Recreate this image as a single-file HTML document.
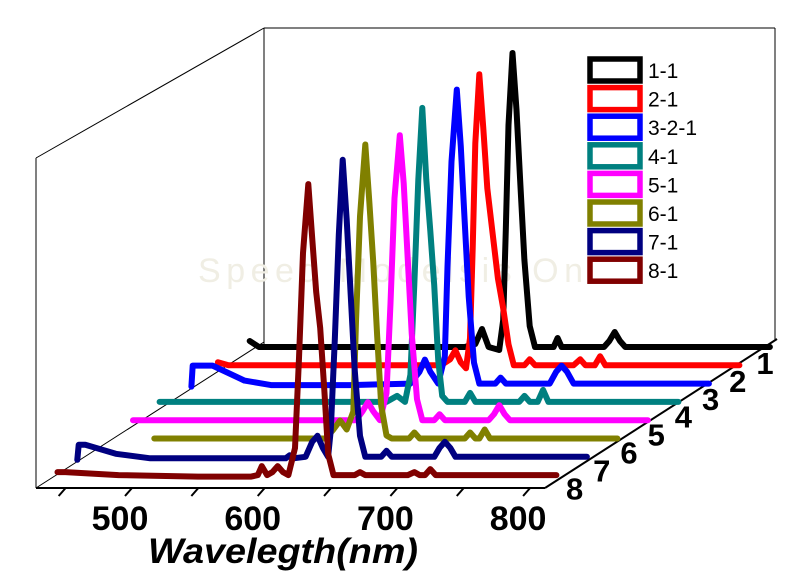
<!DOCTYPE html>
<html><head><meta charset="utf-8"><style>
html,body{margin:0;padding:0;background:#fff;width:787px;height:575px;overflow:hidden}
svg{display:block}
</style></head><body>
<svg id="chart" width="787" height="575" viewBox="0 0 787 575" xmlns="http://www.w3.org/2000/svg">
<g id="frame" stroke="#000" fill="none">
<line x1="264" y1="28" x2="264" y2="345" stroke-width="1"/>
<line x1="264" y1="28" x2="775" y2="28" stroke-width="1"/>
<line x1="775" y1="28" x2="775" y2="340" stroke-width="1"/>
<line x1="264" y1="28" x2="36" y2="158" stroke-width="1"/>
<line x1="36" y1="158" x2="36" y2="488" stroke-width="1"/>
<line x1="36" y1="488" x2="264" y2="342" stroke-width="1"/>
<line x1="36" y1="488" x2="545" y2="488" stroke-width="2"/>
<line x1="545" y1="488" x2="777" y2="339" stroke-width="2"/>
</g>
<text x="198" y="282" font-family="Liberation Sans, sans-serif" font-size="34" fill="#f0eee4" textLength="385">Speed Modelsis On</text>
<g id="series"></g>
<g id="axes"></g>
<text x="148" y="563" font-family="Liberation Sans, sans-serif" font-weight="bold" font-style="italic" font-size="35" textLength="270" lengthAdjust="spacingAndGlyphs">Wavelegth(nm)</text>
<g id="legend"></g>
</svg>
<script>
const seriesNames = ["1-1","2-1","3-2-1","4-1","5-1","6-1","7-1","8-1"];
const depthLabels = ["1","2","3","4","5","6","7","8"];
const colors = ["#000000","#ff0000","#0000ff","#008080","#ff00ff","#808000","#000080","#800000"];
const xTicks = [450,500,550,600,650,700,750,800];
const xTickLabels = [500,600,700,800];

const wl1 = [438,445,500,560,600,608,613,618,626,629,631,633,636,639,642,645,649,653,662,667,670,673,680,705,709,713,717,721,740,830];
const in1 = [3,1,1,1,1,2,7,1,0,10,40,75,99,80,55,30,8,1,1,1,4,1,1,1,3,6,3,1,1,1];
const wl2 = [437,445,560,605,612,616,620,624,627,629,631,634,637,640,644,648,652,656,660,668,672,676,705,710,714,721,725,729,830];
const in2 = [2,1,1,1,3,6,2,0,10,40,75,98,80,60,45,30,20,8,1,1,3,1,1,3,1,1,4,1,1];
const wl3 = [440,441,456,480,500,560,605,612,616,620,626,631,633,636,640,643,646,649,653,657,669,673,677,710,715,719,723,728,830];
const in3 = [0,7,7,2,0.5,0.5,1,5,9,5,1,10,40,75,99,80,55,30,8,1,1,3,1,1,5,7,5,1,1];
const wl4 = [439,560,610,618,624,628,631,634,637,640,643,646,649,652,656,669,673,677,710,714,718,724,728,732,830];
const in4 = [1,1,1,3,1,10,40,75,99,75,58,40,15,3,1,1,4,1,1,3,1,1,5,1,1];
const wl5 = [442,560,610,615,619,623,628,633,636,639,643,646,649,652,656,660,669,673,677,710,714,718,722,726,830];
const in5 = [1,1,1,4,7,4,1,10,40,75,96,80,55,30,8,1,1,3,1,1,3,6,3,1,1];
const wl6 = [481,560,610,616,621,626,631,633,636,640,643,646,649,652,656,660,673,677,681,715,719,723,726,730,734,830];
const in6 = [1,1,1,4,7,4,10,40,75,99,80,60,35,12,2,1,1,3,1,1,3,1,1,4,1,1];
const wl7 = [446,447,452,475,501,560,603,606,609,618,623,627,631,635,637,640,643,646,649,652,655,659,663,675,679,683,715,719,723,727,731,830];
const in7 = [0,5,5,2,0.5,0.5,0.5,1.5,0.5,1,6,8,4,1,10,40,75,100,80,55,30,8,1,1,3,1,1,4,6,4,1,1];
const wl8 = [454,460,500,560,600,605,608,612,616,620,624,628,633,636,639,643,646,649,652,655,658,662,678,682,686,718,723,727,731,735,739,830];
const in8 = [2,2,1,0.5,0.5,1,4,1,2,4,2,1,10,40,75,98,80,62,50,30,8,1,1,2,1,1,2,1,1,3,1,1];

const allWl = [wl1,wl2,wl3,wl4,wl5,wl6,wl7,wl8];
const allIn = [in1,in2,in3,in4,in5,in6,in7,in8];

const NS = "http://www.w3.org/2000/svg";
function xOf(wl, k){ return 332 + (wl-500)*1.327 - k*30.5; }
function baseOf(k){ return 350 + k*18.3; }
function yOf(v, k){ return baseOf(k) - v*3; }

const sg = document.getElementById('series');
for (let k=0;k<allWl.length;k++){
  const w = allWl[k], v = allIn[k];
  let d = "";
  for (let i=0;i<w.length;i++){
    d += (i?"L":"M") + xOf(w[i],k).toFixed(1) + "," + yOf(v[i],k).toFixed(1);
  }
  const p = document.createElementNS(NS,'path');
  p.setAttribute('d', d);
  p.setAttribute('fill','none');
  p.setAttribute('stroke', colors[k]);
  p.setAttribute('stroke-width','6');
  p.setAttribute('stroke-linejoin','round');
  p.setAttribute('stroke-linecap','round');
  
  
  sg.appendChild(p);
}

const ag = document.getElementById('axes');
function xFront(wl){ return 132 + (wl-500)*1.327; }
for (const t of xTicks){
  const x = xFront(t);
  const l = document.createElementNS(NS,'line');
  l.setAttribute('x1', x); l.setAttribute('y1', 488);
  l.setAttribute('x2', x-7); l.setAttribute('y2', 496);
  l.setAttribute('stroke','#000'); l.setAttribute('stroke-width','2');
  
  
  ag.appendChild(l);
}
for (const t of xTickLabels){
  const tx = document.createElementNS(NS,'text');
  tx.setAttribute('x', xFront(t)-12);
  tx.setAttribute('y', 530);
  tx.setAttribute('text-anchor','middle');
  tx.setAttribute('font-family','Liberation Sans, sans-serif');
  tx.setAttribute('font-weight','bold');
  tx.setAttribute('font-size','34');
  tx.textContent = t;
  
  
  ag.appendChild(tx);
}
for (let k=0;k<depthLabels.length;k++){
  const tx = document.createElementNS(NS,'text');
  tx.setAttribute('x', 765 - k*27.2);
  tx.setAttribute('y', 374 + k*17.9);
  tx.setAttribute('text-anchor','middle');
  tx.setAttribute('font-family','Liberation Sans, sans-serif');
  tx.setAttribute('font-weight','bold');
  tx.setAttribute('font-size','31');
  tx.textContent = depthLabels[k];
  
  
  ag.appendChild(tx);
}

const lg = document.getElementById('legend');
for (let k=0;k<seriesNames.length;k++){
  const cy = 70 + k*28.6;
  const r = document.createElementNS(NS,'rect');
  r.setAttribute('x', 590); r.setAttribute('y', cy-11);
  r.setAttribute('width', 50); r.setAttribute('height', 22);
  r.setAttribute('fill','#fff'); r.setAttribute('stroke', colors[k]); r.setAttribute('stroke-width','5.5');
  
  
  lg.appendChild(r);
  const tx = document.createElementNS(NS,'text');
  tx.setAttribute('x', 648); tx.setAttribute('y', cy+8);
  tx.setAttribute('font-family','Liberation Sans, sans-serif');
  tx.setAttribute('font-size','21');
  tx.textContent = seriesNames[k];
  
  
  lg.appendChild(tx);
}
</script>
</body></html>
